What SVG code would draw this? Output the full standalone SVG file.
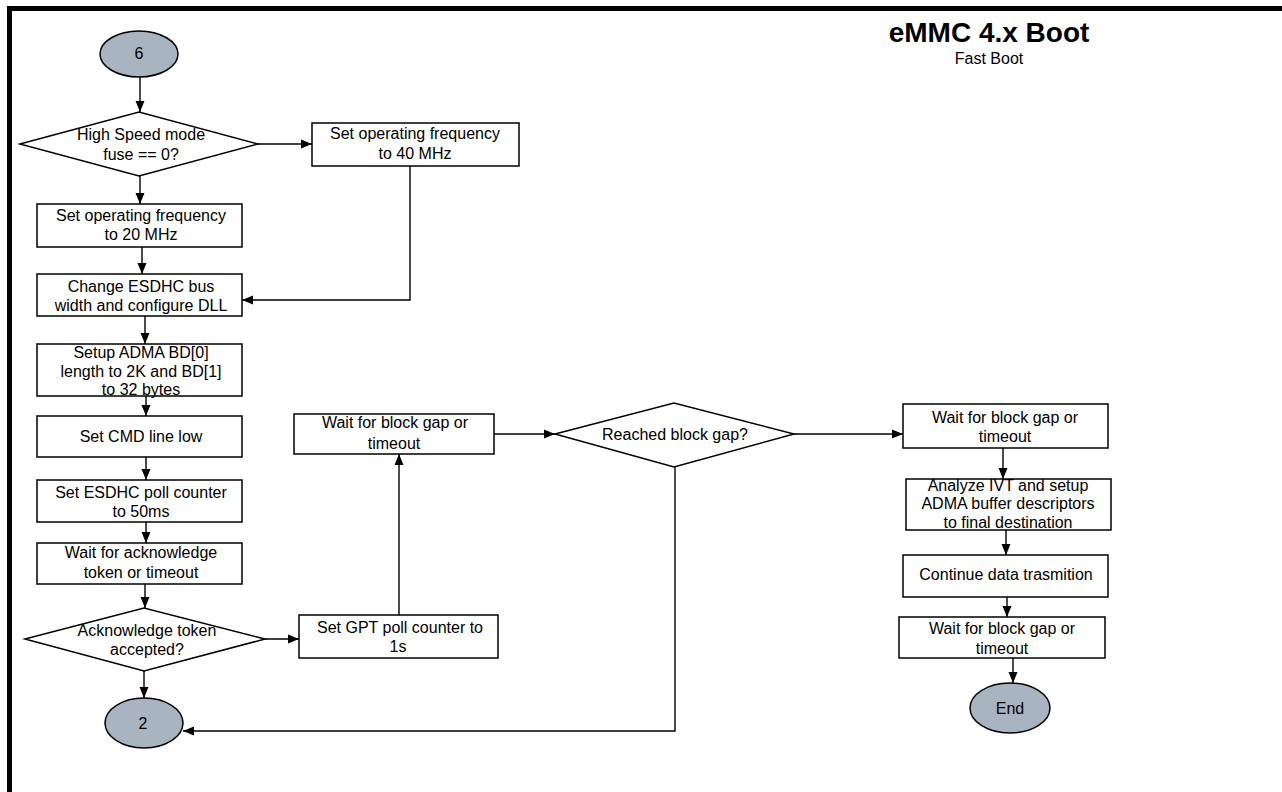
<svg xmlns="http://www.w3.org/2000/svg" width="1282" height="792" viewBox="0 0 1282 792">
<style>
.bx{fill:#fff;stroke:#000;stroke-width:1.5}
.term{fill:#a8b4c0;stroke:#000;stroke-width:1.5}
.t{font-family:"Liberation Sans",Arial,sans-serif;font-size:16px;fill:#000;text-anchor:middle}
.ln{fill:none;stroke:#000;stroke-width:1.4}
</style>
<defs>
<marker id="ah" markerUnits="userSpaceOnUse" markerWidth="12" markerHeight="10" refX="11" refY="5" orient="auto">
<path d="M0,0.5 L11,5 L0,9.5 z" fill="#000"/>
</marker>
</defs>
<rect width="1282" height="792" fill="#fff"/>
<path d="M9.5,792 V8.5 H1282" fill="none" stroke="#000" stroke-width="5"/>
<g id="title">
<text x="989" y="42" font-family="Liberation Sans,Arial,sans-serif" font-size="28" font-weight="bold" text-anchor="middle">eMMC 4.x Boot</text>
<text x="989" y="64" class="t">Fast Boot</text>
</g>
<g id="connectors">
<path class="ln" d="M140,77 V112" marker-end="url(#ah)"/>
<path class="ln" d="M258,144 H312" marker-end="url(#ah)"/>
<path class="ln" d="M140,176 V204" marker-end="url(#ah)"/>
<path class="ln" d="M142,247 V274" marker-end="url(#ah)"/>
<path class="ln" d="M410,166 V300 H242" marker-end="url(#ah)"/>
<path class="ln" d="M145,316 V344" marker-end="url(#ah)"/>
<path class="ln" d="M146,396 V416" marker-end="url(#ah)"/>
<path class="ln" d="M146,457 V480" marker-end="url(#ah)"/>
<path class="ln" d="M146,522 V543" marker-end="url(#ah)"/>
<path class="ln" d="M145,584 V608" marker-end="url(#ah)"/>
<path class="ln" d="M144,671 V698" marker-end="url(#ah)"/>
<path class="ln" d="M265,639 H299" marker-end="url(#ah)"/>
<path class="ln" d="M399,615 V454" marker-end="url(#ah)"/>
<path class="ln" d="M494,434 H555" marker-end="url(#ah)"/>
<path class="ln" d="M794,434 H903" marker-end="url(#ah)"/>
<path class="ln" d="M675,467 V731 H183" marker-end="url(#ah)"/>
<path class="ln" d="M1003,448 V479" marker-end="url(#ah)"/>
<path class="ln" d="M1006,530 V555" marker-end="url(#ah)"/>
<path class="ln" d="M1007,597 V617" marker-end="url(#ah)"/>
<path class="ln" d="M1013,658 V683" marker-end="url(#ah)"/>
</g>
<g id="n6">
<ellipse class="term" cx="139" cy="54" rx="39" ry="23"/>
<text class="t" x="139" y="59">6</text>
</g>
<g id="d_highspeed">
<polygon class="bx" points="20,144 139,112 258,144 139,176"/>
<text class="t" x="141" y="140">High Speed mode</text>
<text class="t" x="141" y="160">fuse == 0?</text>
</g>
<g id="b_40mhz">
<rect class="bx" x="312" y="123" width="207" height="43"/>
<text class="t" x="415" y="139">Set operating frequency</text>
<text class="t" x="415" y="159">to 40 MHz</text>
</g>
<g id="b_20mhz">
<rect class="bx" x="37" y="204" width="205" height="43"/>
<text class="t" x="141" y="221">Set operating frequency</text>
<text class="t" x="141" y="240">to 20 MHz</text>
</g>
<g id="b_buswidth">
<rect class="bx" x="37" y="274" width="205" height="42"/>
<text class="t" x="141" y="292">Change ESDHC bus</text>
<text class="t" x="141" y="311">width and configure DLL</text>
</g>
<g id="b_adma">
<rect class="bx" x="37" y="344" width="205" height="52"/>
<text class="t" x="141" y="358">Setup ADMA BD[0]</text>
<text class="t" x="141" y="377">length to 2K and BD[1]</text>
<text class="t" x="141" y="395">to 32 bytes</text>
</g>
<g id="b_cmd">
<rect class="bx" x="37" y="416" width="205" height="41"/>
<text class="t" x="141" y="442">Set CMD line low</text>
</g>
<g id="b_poll">
<rect class="bx" x="37" y="480" width="205" height="42"/>
<text class="t" x="141" y="498">Set ESDHC poll counter</text>
<text class="t" x="141" y="517">to 50ms</text>
</g>
<g id="b_waitack">
<rect class="bx" x="37" y="543" width="205" height="41"/>
<text class="t" x="141" y="558">Wait for acknowledge</text>
<text class="t" x="141" y="578">token or timeout</text>
</g>
<g id="d_ack">
<polygon class="bx" points="25,639 144,608 265,639 144,671"/>
<text class="t" x="147" y="636">Acknowledge token</text>
<text class="t" x="147" y="655">accepted?</text>
</g>
<g id="n2">
<ellipse class="term" cx="144" cy="723" rx="39" ry="25"/>
<text class="t" x="143" y="729">2</text>
</g>
<g id="b_gpt">
<rect class="bx" x="299" y="615" width="199" height="43"/>
<text class="t" x="400" y="633">Set GPT poll counter to</text>
<text class="t" x="398" y="652">1s</text>
</g>
<g id="b_wait1">
<rect class="bx" x="294" y="414" width="200" height="40"/>
<text class="t" x="395" y="428">Wait for block gap or</text>
<text class="t" x="394" y="449">timeout</text>
</g>
<g id="d_gap">
<polygon class="bx" points="555,434 674,403 794,434 674,467"/>
<text class="t" x="675" y="440">Reached block gap?</text>
</g>
<g id="b_wait2">
<rect class="bx" x="903" y="404" width="205" height="44"/>
<text class="t" x="1005" y="423">Wait for block gap or</text>
<text class="t" x="1005" y="442">timeout</text>
</g>
<g id="b_ivt">
<rect class="bx" x="906" y="479" width="205" height="51"/>
<text class="t" x="1008" y="491">Analyze IVT and setup</text>
<text class="t" x="1008" y="509">ADMA buffer descriptors</text>
<text class="t" x="1008" y="528">to final destination</text>
</g>
<g id="b_continue">
<rect class="bx" x="903" y="555" width="205" height="42"/>
<text class="t" x="1006" y="580">Continue data trasmition</text>
</g>
<g id="b_wait3">
<rect class="bx" x="899" y="617" width="206" height="41"/>
<text class="t" x="1002" y="634">Wait for block gap or</text>
<text class="t" x="1002" y="654">timeout</text>
</g>
<g id="n_end">
<ellipse class="term" cx="1010" cy="708" rx="40" ry="25"/>
<text class="t" x="1010" y="714">End</text>
</g>
</svg>
